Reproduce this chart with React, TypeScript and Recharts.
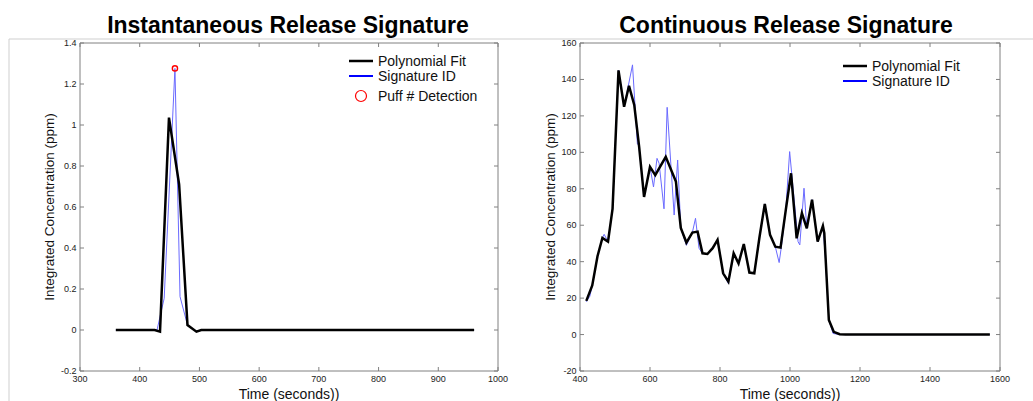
import {
  ComposedChart,
  Line,
  Scatter,
  XAxis,
  YAxis,
  ReferenceArea,
} from "recharts";

// ---- Instantaneous release (left) ----
const instFitTime = [360, 425, 434, 449, 466, 480, 495, 503, 960];
const instFitConc = [0, 0, -0.008, 1.036, 0.71, 0.024, -0.008, 0, 0];
const instSigTime = [360, 429, 441, 459, 467.5, 480, 495, 503, 960];
const instSigConc = [0, 0, 0.155, 1.276, 0.163, 0.024, -0.008, 0, 0];
const instPuffTime = [459];
const instPuffConc = [1.276];
const instXTicks = [300, 400, 500, 600, 700, 800, 900, 1000];
const instYTicks = [-0.2, 0, 0.2, 0.4, 0.6, 0.8, 1, 1.2, 1.4];

// ---- Continuous release (right) ----
const contFitTime = [
  418, 435, 450, 464, 480, 493, 510, 526, 540, 555, 569, 583, 600, 615, 645,
  674, 688, 704, 721, 736, 750, 764, 779, 793, 809, 824, 839, 853, 868, 884,
  898, 913, 928, 943, 958, 973, 988, 1003, 1019, 1034, 1048, 1063, 1079, 1094,
  1098, 1111, 1125, 1142, 1159, 1571,
];
const contFitConc = [
  18.5, 27, 43, 53, 51, 69, 145, 125, 136.5, 126, 103, 75.5, 92, 87.5, 97.5,
  84, 58.5, 50.5, 56, 56.5, 44.6, 44.2, 47.4, 52, 33.6, 29, 44.6, 39, 49.7, 34,
  33.6, 53.7, 71.7, 54.7, 48.2, 47.7, 68.4, 88.5, 52.8, 66.6, 58.3, 74, 51, 59.6,
  55.6, 8, 1.5, 0.2, 0, 0,
];
const contSigTime = [
  418, 428, 435, 450, 464, 469, 480, 493, 510, 526, 550, 564, 568, 583, 600,
  610, 620, 626, 640, 649, 669, 679, 688, 704, 721, 730, 740, 750, 764, 779,
  793, 809, 824, 839, 853, 868, 884, 898, 913, 928, 943, 958, 969, 975, 988,
  999, 1023, 1028, 1040, 1048, 1063, 1079, 1094, 1101, 1111, 1123, 1142, 1571,
];
const contSigConc = [
  18, 21, 27, 43, 53, 55, 51, 69, 145, 125, 148, 104.5, 104, 75.5, 92,
  81, 96.7, 94, 69, 124.7, 65.6, 95.8, 58.3, 49, 56, 63.8, 47.4, 44.6, 44.2, 47.4,
  52, 33.6, 28, 44.6, 39, 49.7, 34, 33.6, 53.7, 71.7, 54.7, 48.2, 39.5, 47.7, 68.4,
  100.4, 51, 49.2, 80.3, 58.3, 74, 51, 59.6, 42.8, 8, 0.6, 0, 0,
];
const contXTicks = [400, 600, 800, 1000, 1200, 1400, 1600];
const contYTicks = [-20, 0, 20, 40, 60, 80, 100, 120, 140, 160];

const AXIS = "#808080";
const FONT = "'Liberation Sans', Arial, Helvetica, sans-serif";
const SIG_BLUE = "#6a6aff";
const AXIS_W = 40;
const AXIS_H = 30;

const toPoints = (xs: number[], ys: number[]) =>
  xs.map((x, i) => ({ x, y: ys[i] }));

const makeXTick = (top: number, bottom: number) => (props: any) => {
  const { x, payload } = props;
  return (
    <g>
      <line x1={x} x2={x} y1={bottom} y2={bottom - 4} stroke={AXIS} />
      <line x1={x} x2={x} y1={top} y2={top + 4} stroke={AXIS} />
      <text x={x} y={bottom + 11} textAnchor="middle" fontSize={9} fill="#222" fontFamily={FONT}>
        {payload.value}
      </text>
    </g>
  );
};

const makeYTick = (left: number, right: number) => (props: any) => {
  const { y, payload } = props;
  return (
    <g>
      <line x1={left} x2={left + 4} y1={y} y2={y} stroke={AXIS} />
      <line x1={right} x2={right - 4} y1={y} y2={y} stroke={AXIS} />
      <text x={left - 3.5} y={y + 3} textAnchor="end" fontSize={9} fill="#222" fontFamily={FONT}>
        {payload.value}
      </text>
    </g>
  );
};

const PuffMarker = (props: any) => (
  <circle cx={props.cx} cy={props.cy} r={2.6} fill="none" stroke="#ff0000" strokeWidth={1.4} />
);

type PanelProps = {
  left: number;
  width: number;
  plot: { top: number; right: number; bottom: number; left: number };
  xDomain: [number, number];
  yDomain: [number, number];
  xTicks: number[];
  yTicks: number[];
  fit: { x: number; y: number }[];
  sig: { x: number; y: number }[];
  puff?: { x: number; y: number }[];
};

const Panel = ({ left, width, plot, xDomain, yDomain, xTicks, yTicks, fit, sig, puff }: PanelProps) => {
  const height = 401;
  const plotTop = plot.top;
  const plotBottom = height - plot.bottom;
  const plotLeft = plot.left;
  const plotRight = width - plot.right;
  return (
    <div style={{ position: "absolute", left, top: 0 }}>
      <ComposedChart
        width={width}
        height={height}
        margin={{ top: plot.top, right: plot.right, bottom: plot.bottom - AXIS_H, left: plot.left - AXIS_W }}
      >
        <XAxis
          dataKey="x"
          type="number"
          domain={xDomain}
          ticks={xTicks}
          interval={0}
          height={AXIS_H}
          tickSize={0}
          tickMargin={0}
          axisLine={false}
          tickLine={false}
          tick={makeXTick(plotTop, plotBottom)}
          allowDataOverflow
        />
        <YAxis
          dataKey="y"
          type="number"
          domain={yDomain}
          ticks={yTicks}
          interval={0}
          width={AXIS_W}
          tickSize={0}
          tickMargin={0}
          axisLine={false}
          tickLine={false}
          tick={makeYTick(plotLeft, plotRight)}
          allowDataOverflow
        />
        <ReferenceArea
          x1={xDomain[0]}
          x2={xDomain[1]}
          y1={yDomain[0]}
          y2={yDomain[1]}
          fill="none"
          stroke={AXIS}
          strokeWidth={1}
          fillOpacity={0}
        />
        <Line
          data={sig}
          dataKey="y"
          stroke={SIG_BLUE}
          strokeWidth={1}
          dot={false}
          isAnimationActive={false}
        />
        <Line
          data={fit}
          dataKey="y"
          stroke="#000"
          strokeWidth={2.5}
          strokeLinejoin="miter"
          dot={false}
          isAnimationActive={false}
        />
        {puff && (
          <Scatter data={puff} dataKey="y" shape={PuffMarker} isAnimationActive={false} />
        )}
      </ComposedChart>
    </div>
  );
};

const LegendRow = ({ y, x, label, kind }: { y: number; x: number; label: string; kind: "fit" | "sig" | "puff" }) => (
  <g>
    {kind === "puff" ? (
      <circle cx={x + 12} cy={y} r={5.5} fill="none" stroke="#ff0000" strokeWidth={1.2} />
    ) : (
      <line
        x1={x}
        x2={x + 24}
        y1={y}
        y2={y}
        stroke={kind === "fit" ? "#000" : "#0000ff"}
        strokeWidth={kind === "fit" ? 2.5 : 2}
      />
    )}
    <text x={x + 29} y={y + 5} fontSize={14} fill="#111" fontFamily={FONT}>
      {label}
    </text>
  </g>
);

export default function App() {
  return (
    <div
      style={{
        position: "absolute",
        left: 0,
        top: 0,
        width: 1033,
        height: 401,
        background: "#fff",
        overflow: "hidden",
        fontFamily: FONT,
      }}
    >
      <Panel
        left={0}
        width={520}
        plot={{ top: 43, right: 22, bottom: 30, left: 80 }}
        xDomain={[300, 1000]}
        yDomain={[-0.2, 1.4]}
        xTicks={instXTicks}
        yTicks={instYTicks}
        fit={toPoints(instFitTime, instFitConc)}
        sig={toPoints(instSigTime, instSigConc)}
        puff={toPoints(instPuffTime, instPuffConc)}
      />
      <Panel
        left={520}
        width={513}
        plot={{ top: 43, right: 33, bottom: 30, left: 60 }}
        xDomain={[400, 1600]}
        yDomain={[-20, 160]}
        xTicks={contXTicks}
        yTicks={contYTicks}
        fit={toPoints(contFitTime, contFitConc)}
        sig={toPoints(contSigTime, contSigConc)}
      />
      <svg
        width={1033}
        height={401}
        style={{ position: "absolute", left: 0, top: 0, pointerEvents: "none" }}
      >
        <line x1={9} x2={1033} y1={39} y2={39} stroke="#cfcfcf" />
        <line x1={9} x2={9} y1={39} y2={401} stroke="#cfcfcf" />

        <text x={288} y={33} textAnchor="middle" fontSize={23} fontWeight="bold" fill="#000" fontFamily={FONT}>
          Instantaneous Release Signature
        </text>
        <text x={786} y={33} textAnchor="middle" fontSize={23} fontWeight="bold" fill="#000" fontFamily={FONT}>
          Continuous Release Signature
        </text>

        <text
          transform="translate(54,207) rotate(-90)"
          textAnchor="middle"
          fontSize={13.5}
          fill="#111"
          fontFamily={FONT}
        >
          Integrated Concentration (ppm)
        </text>
        <text
          transform="translate(555,207) rotate(-90)"
          textAnchor="middle"
          fontSize={13.5}
          fill="#111"
          fontFamily={FONT}
        >
          Integrated Concentration (ppm)
        </text>

        <text x={289} y={399} textAnchor="middle" fontSize={14} fill="#111" fontFamily={FONT}>
          Time (seconds))
        </text>
        <text x={790} y={399} textAnchor="middle" fontSize={14} fill="#111" fontFamily={FONT}>
          Time (seconds))
        </text>

        <LegendRow x={349} y={61} label="Polynomial Fit" kind="fit" />
        <LegendRow x={349} y={76} label="Signature ID" kind="sig" />
        <LegendRow x={349} y={96} label="Puff # Detection" kind="puff" />

        <LegendRow x={843} y={66} label="Polynomial Fit" kind="fit" />
        <LegendRow x={843} y={81} label="Signature ID" kind="sig" />
      </svg>
    </div>
  );
}
